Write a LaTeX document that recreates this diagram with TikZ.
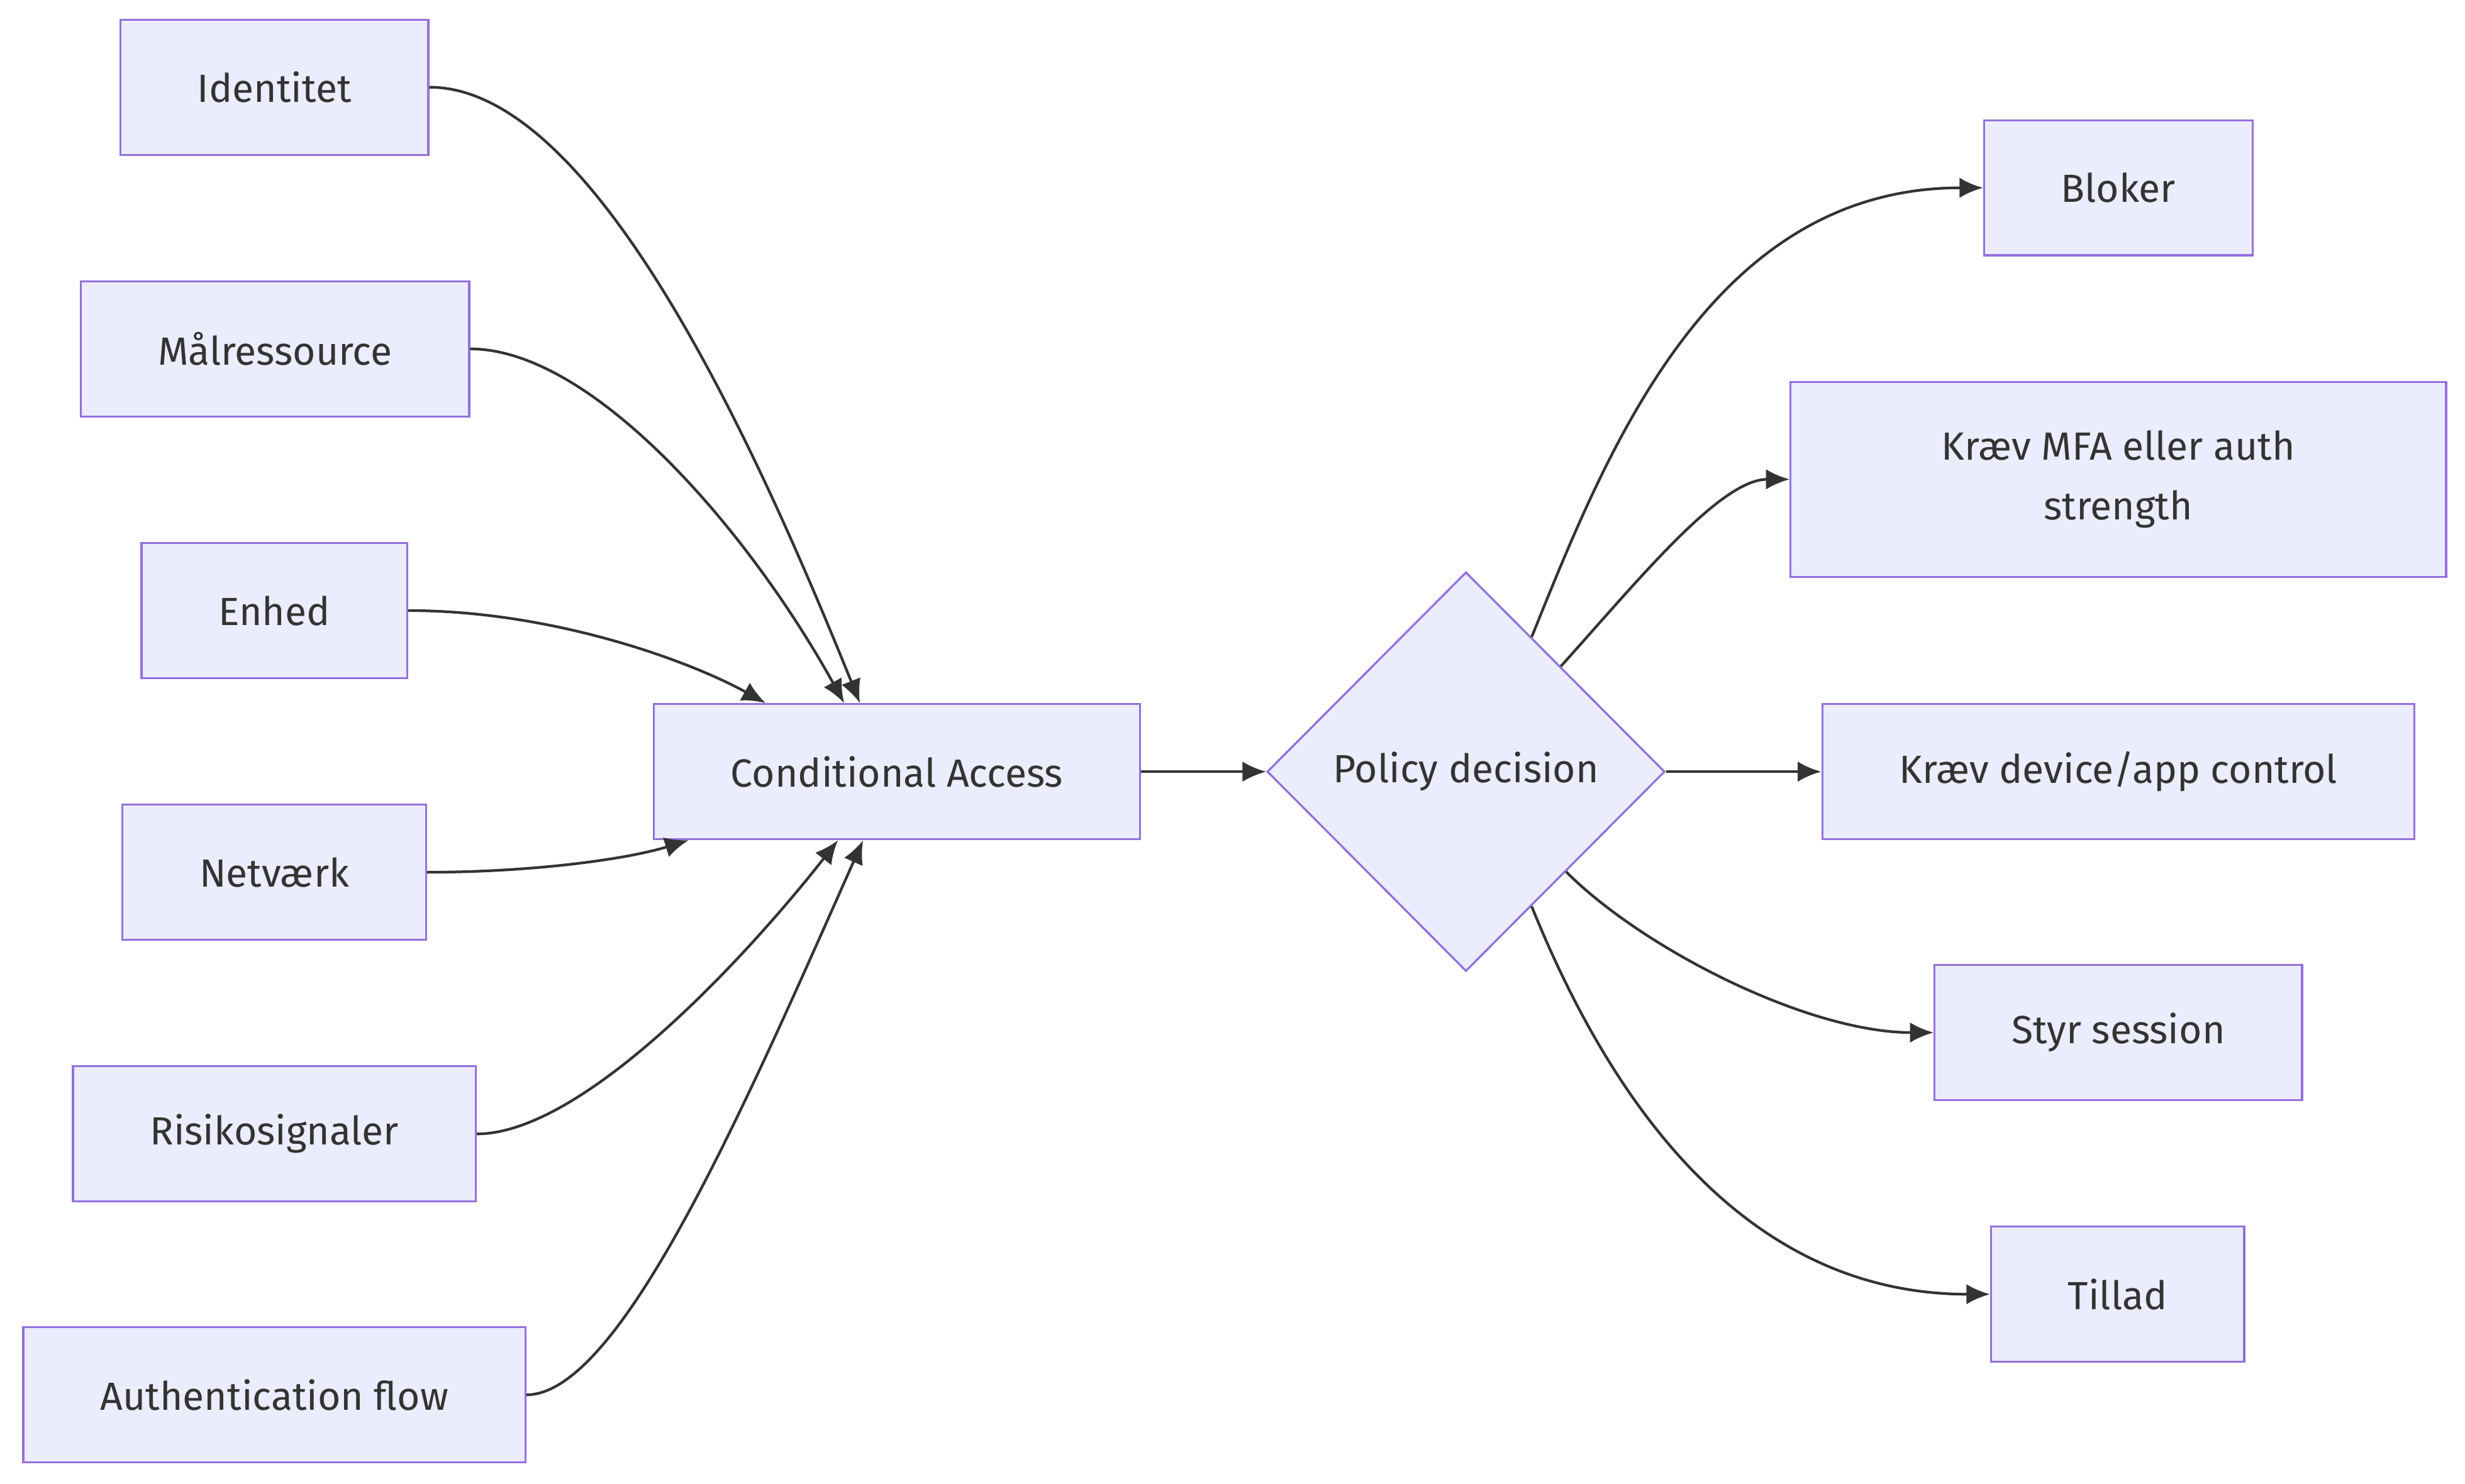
\documentclass[tikz,border=0pt]{standalone}
\usepackage{fontspec}
\setmainfont{Fira Sans}
\usetikzlibrary{shapes.geometric,arrows.meta}
\definecolor{boxfill}{HTML}{ECECFF}
\definecolor{boxline}{HTML}{9370DB}
\definecolor{ink}{HTML}{333333}
\begin{document}
\begin{tikzpicture}[x=1pt, y=1pt]

      \tikzset{box/.style={draw=boxline, fill=boxfill, line width=1.3pt, rectangle, inner xsep=49pt, inner ysep=0pt, minimum height=86pt, text=ink, font=\fontsize{25}{38}\selectfont},
               decision/.style={draw=boxline, fill=boxfill, line width=1.3pt, diamond, aspect=1, inner sep=0pt, minimum width=253pt, minimum height=254pt, text=ink, font=\fontsize{25}{38}\selectfont},
               flow/.style={->, >={Latex[length=15pt, width=13pt]}, draw=ink, line width=1.7pt}}
      \useasboundingbox (0,0) rectangle (1568,944);
%% Signals
      	\node[box] (identitet) at (174.5,888.5) {Identitet};
      	\node[box] (maal) at (175,722) {Målressource};
      	\node[box] (enhed) at (174.5,555.5) {Enhed};
      	\node[box] (netvaerk) at (174.5,389) {Netværk};
      	\node[box] (risiko) at (174.5,222.5) {Risikosignaler};
      	\node[box] (authflow) at (174.5,56.5) {Authentication flow};
%% Engine
      	\node[box] (ca) at (570.5,453) {Conditional Access};
      	\node[decision] (pd) at (932.5,453) {Policy decision};
%% Outcomes
      	\node[box] (bloker) at (1347.5,824.5) {Bloker};
      	\node[box, minimum width=417pt, minimum height=124pt, align=center] (mfa) at (1347.5,639) {Kræv MFA eller auth\\strength};
      	\node[box] (device) at (1347.5,453) {Kræv device/app control};
      	\node[box] (session) at (1347.5,287) {Styr session};
      	\node[box] (tillad) at (1347,120.5) {Tillad};
%Edges
		\path (identitet.east) edge [flow, out=0, in=112, out looseness=0.55] ([xshift=-23.5pt]ca.north);
		\path (maal.east) edge [flow, out=0, in=119, out looseness=0.6] ([xshift=-33.5pt]ca.north);
		\path (enhed.east) edge [flow, out=0, in=151, in looseness=0.6] ([xshift=-83.5pt]ca.north);
		\path (netvaerk.east) edge [flow, out=0, in=-163, in looseness=0.65] ([xshift=-132.5pt]ca.south);
		\path (risiko.east) edge [flow, out=0, in=-128, out looseness=0.6, in looseness=0.75] ([xshift=-37.5pt]ca.south);
		\path (authflow.east) edge [flow, out=0, in=-114, out looseness=0.37, in looseness=1.15] ([xshift=-21.5pt]ca.south);
		\path (ca) edge [flow] (pd);
		\path (pd.64) edge [flow, out=68, in=180, out looseness=0.8, in looseness=1.1] (bloker.west);
		\path (pd.48) edge [flow, out=48, in=180, out looseness=1, in looseness=0.6] (mfa.west);
		\path (pd) edge [flow] (device);
		\path (pd.-45) edge [flow, out=-45, in=180, out looseness=0.7, in looseness=0.8] (session.west);
		\path (pd.-64) edge [flow, out=-68, in=180, out looseness=0.8, in looseness=1.1] (tillad.west);

	\end{tikzpicture}
\end{document}
